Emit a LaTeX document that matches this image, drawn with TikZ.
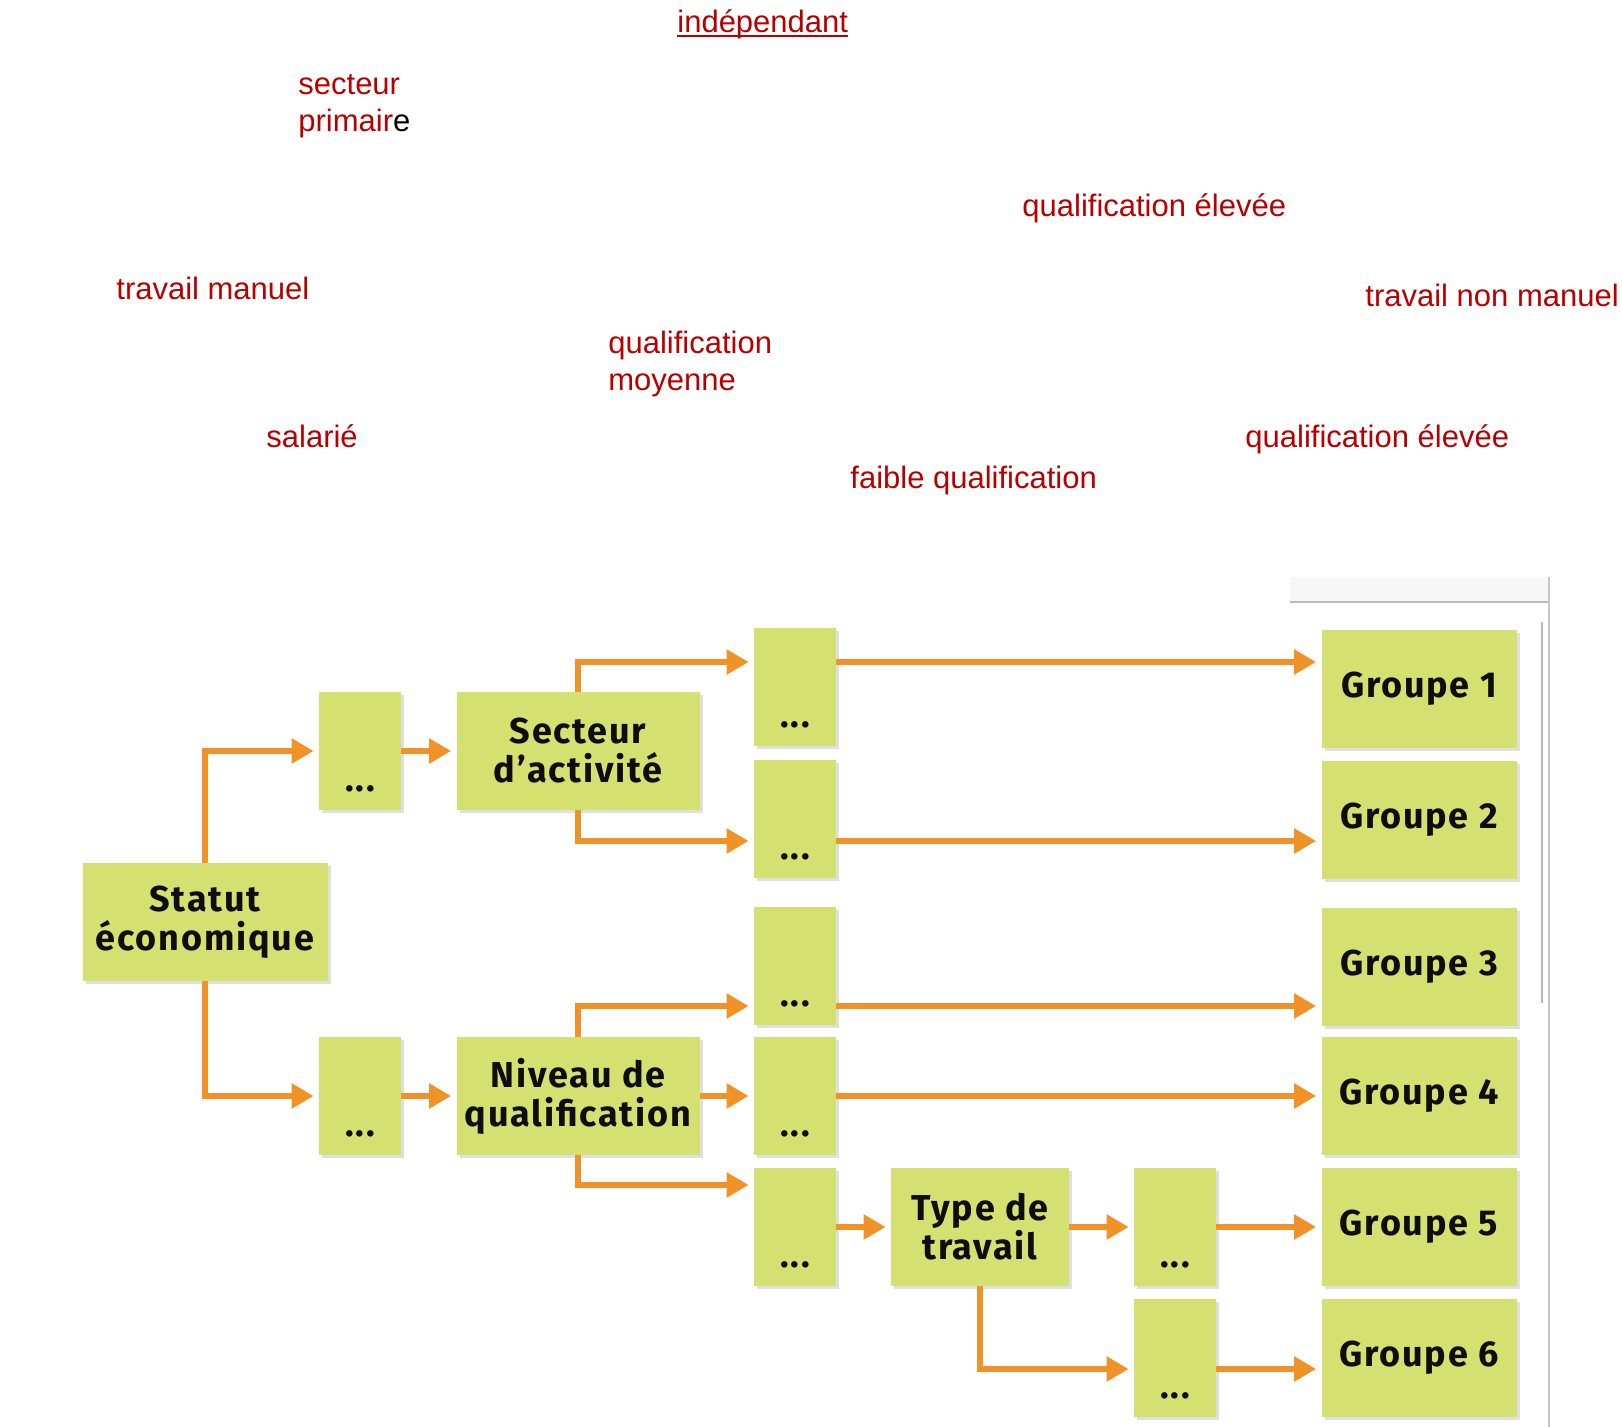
\documentclass[tikz,border=0pt]{standalone}
\usepackage{fontspec}
\setmainfont{Liberation Sans}
\newfontfamily\boxfont{Fira Sans}[LetterSpace=5]
\usetikzlibrary{arrows.meta,shadows}

\definecolor{boxgreen}{RGB}{212,224,112}
\definecolor{arroworange}{RGB}{240,146,40}
\definecolor{notered}{RGB}{184,0,0}

\newcommand\ulred[1]{\setbox0\hbox{#1}\rlap{\rule[-2pt]{\wd0}{0.9pt}}\box0}

\tikzset{
  box/.style={rectangle, fill=boxgreen, inner sep=0pt, minimum height=59pt, align=center,
    text=black!95, font=\boxfont\bfseries\fontsize{18}{19.5}\selectfont,
    drop shadow={opacity=0.25, shadow xshift=1.5pt, shadow yshift=-1.5pt}},
  dotsbox/.style={box, minimum width=41pt, text height=40pt, text depth=0pt},
  groupbox/.style={box, minimum width=97.5pt},
  note/.style={anchor=base west, inner sep=0pt, align=left, text=notered,
    font=\fontsize{15.5}{18.5}\selectfont},
  flow/.style={->, draw=arroworange, line width=3.2pt, shorten >=2.5pt},
  >={Triangle[length=11pt,width=12pt]}
}

\begin{document}
\begin{tikzpicture}[x=0.5pt, y=-0.5pt]
  \useasboundingbox (0,0) rectangle (1622,1427);
  % Frame
  \fill[gray!6] (1290,577) rectangle (1549,601);
  \draw[gray!55, line width=1.2pt] (1290,602) -- (1549,602);
  \draw[gray!45, line width=1pt] (1549,577) -- (1549,1427);
  \draw[blue!30!gray!45, line width=1pt] (1542,622) -- (1542,1003);
  % Notes
  \node (independant) [note] at (677, 33) {\ulred{indépendant}};
  \node (primaire) [note] at (298, 132) {secteur\\primair\textcolor{black}{e}};
  \node (elevee-1) [note] at (1022, 217) {qualification élevée};
  \node (manuel) [note] at (116, 300) {travail manuel};
  \node (non-manuel) [note] at (1365, 307) {travail non manuel};
  \node (moyenne) [note] at (608, 391) {qualification\\moyenne};
  \node (salarie) [note] at (266, 448) {salarié};
  \node (elevee-2) [note] at (1245, 448) {qualification élevée};
  \node (faible) [note] at (850, 489) {faible qualification};
  % Nodes
  \node (statut) [box, minimum width=122.5pt] at (205, 922) {Statut\\économique};
  \node (dots-up) [dotsbox] at (360, 751) {...};
  \node (dots-low) [dotsbox] at (360, 1096) {...};
  \node (secteur) [box, minimum width=121.5pt] at (578, 751) {Secteur\\d’activité};
  \node (niveau) [box, minimum width=121.5pt] at (578, 1096) {Niveau de\\qualification};
  \node (dots-a) [dotsbox] at (795, 687) {...};
  \node (dots-b) [dotsbox] at (795, 819) {...};
  \node (dots-c) [dotsbox] at (795, 966) {...};
  \node (dots-d) [dotsbox] at (795, 1096) {...};
  \node (dots-e) [dotsbox] at (795, 1227) {...};
  \node (type) [box, minimum width=89pt] at (980, 1227) {Type de\\travail};
  \node (dots-f) [dotsbox] at (1175, 1227) {...};
  \node (dots-g) [dotsbox] at (1175, 1358) {...};
  \node (groupe-1) [groupbox] at (1419, 689) {Groupe 1};
  \node (groupe-2) [groupbox] at (1419, 820) {Groupe 2};
  \node (groupe-3) [groupbox] at (1419, 967) {Groupe 3};
  \node (groupe-4) [groupbox] at (1419, 1096) {Groupe 4};
  \node (groupe-5) [groupbox] at (1419, 1227) {Groupe 5};
  \node (groupe-6) [groupbox] at (1419, 1358) {Groupe 6};
  % Arrow
  \draw[flow] (statut.north) |- (dots-up.west);
  \draw[flow] (statut.south) |- (dots-low.west);
  \draw[flow] (dots-up) -- (secteur);
  \draw[flow] (dots-low) -- (niveau);
  \draw[flow] (secteur.north) |- ([yshift=12.5pt]dots-a.west);
  \draw[flow] (secteur.south) |- ([yshift=-11pt]dots-b.west);
  \draw[flow] (niveau.north) |- ([yshift=-20pt]dots-c.west);
  \draw[flow] (niveau) -- (dots-d);
  \draw[flow] (niveau.south) |- ([yshift=21pt]dots-e.west);
  \draw[flow] ([yshift=12.5pt]dots-a.east) -- ([yshift=13.5pt]groupe-1.west);
  \draw[flow] ([yshift=-11pt]dots-b.east) -- ([yshift=-10.5pt]groupe-2.west);
  \draw[flow] ([yshift=-20pt]dots-c.east) -- ([yshift=-19.5pt]groupe-3.west);
  \draw[flow] (dots-d) -- (groupe-4);
  \draw[flow] (dots-e) -- (type);
  \draw[flow] (type) -- (dots-f);
  \draw[flow] (dots-f) -- (groupe-5);
  \draw[flow] (type.south) |- ([yshift=-5.5pt]dots-g.west);
  \draw[flow] ([yshift=-5.5pt]dots-g.east) -- ([yshift=-5.5pt]groupe-6.west);
\end{tikzpicture}
\end{document}
